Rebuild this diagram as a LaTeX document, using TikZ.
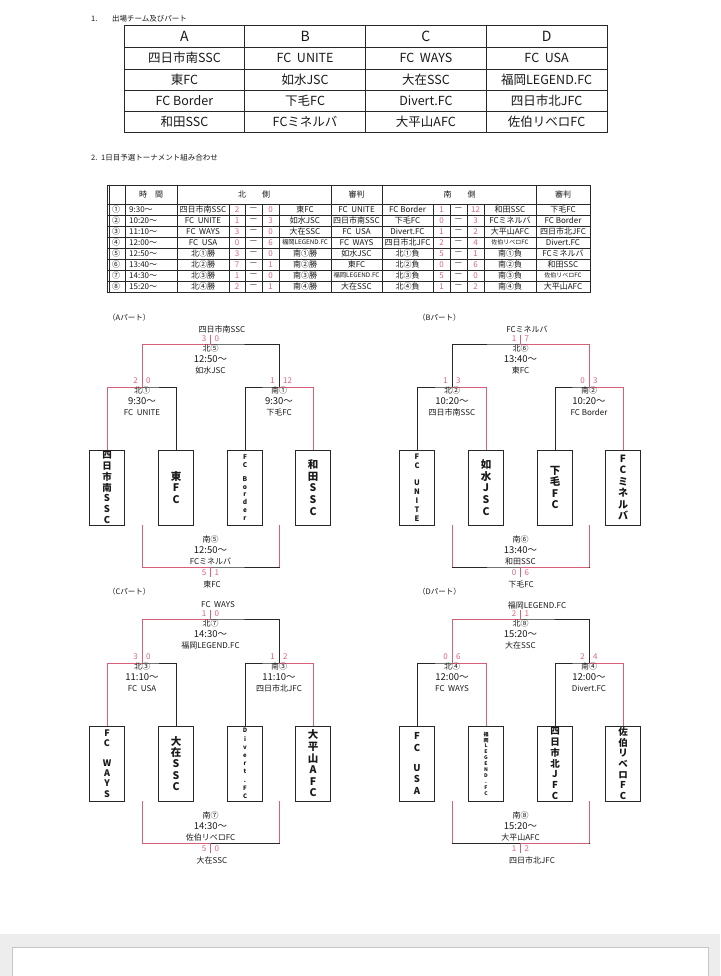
\documentclass[tikz,border=0pt]{standalone}
\usepackage{fontspec}
\setmainfont{Noto Sans CJK JP}
\definecolor{redl}{RGB}{214,96,120}
\definecolor{reds}{RGB}{222,100,126}
\definecolor{blk}{RGB}{40,40,40}
\definecolor{txt}{RGB}{25,25,25}
\newcommand\fs[2]{\fontsize{#1}{#2}\selectfont}
\tikzset{
 ln/.style={draw=blk, line width=0.9pt},
 rl/.style={draw=redl, line width=1pt},
 sc/.style={inner sep=0pt, text=reds, font=\fs{8}{9}},
 mt/.style={inner sep=0pt, text=txt, align=center, font=\fs{8}{11}},
 lab/.style={inner sep=0pt, text=txt, font=\fs{8}{9}},
 team/.style={draw=blk, line width=1pt, minimum width=35pt, minimum height=75pt, inner sep=0pt, align=center, text=txt},
 grid/.style={draw=blk, line width=0.7pt},
 cell/.style={inner sep=0pt, text=txt, font=\fs{12.5}{14}},
 tc/.style={inner sep=0pt, text=txt, font=\fs{8}{8.5}},
 tsc/.style={inner sep=0pt, text=reds, font=\fs{8}{8.5}},
}
% sub bracket: #1 name, #2 left box, #3 right box, #4 winner box, #5 x, #6 y, #7 sL, #8 sR, #9 text
\newcommand\subbr[9]{%
 \coordinate (#1) at (#5,#6);
 \draw[ln] (#2.north) |- (#1) -| (#3.north);
 \draw[rl] (#4.north) |- (#1);
 \node[sc,anchor=east] (#1sl) at ([xshift=-4pt,yshift=6pt]#1) {#7};
 \node[sc,anchor=west] (#1sr) at ([xshift=4pt,yshift=6pt]#1) {#8};
 \node[mt,anchor=north] (#1t) at (#1) {#9};
}
% top bracket: #1 name, #2 left sub, #3 right sub, #4 winner sub, #5 x, #6 y, #7 sL, #8 sR, #9 text
\newcommand\topbr[9]{%
 \coordinate (#1) at (#5,#6);
 \coordinate (#1k) at (#5,#6-9);
 \draw[ln] (#2) |- (#1) -| (#3);
 \draw[rl] (#4) |- (#1) -- (#1k);
 \node[sc,anchor=east] (#1sl) at ([xshift=-4pt,yshift=5pt]#1) {#7};
 \node[sc,anchor=west] (#1sr) at ([xshift=4pt,yshift=5pt]#1) {#8};
 \node[mt,anchor=north] (#1t) at ([yshift=-1pt]#1) {#9};
}
% bottom bracket: #1 name, #2 left x, #3 right x, #4 winner x, #5 x, #6 y, #7 sL, #8 sR, #9 text
\newcommand\botbr[9]{%
 \coordinate (#1) at (#5,#6);
 \coordinate (#1k) at (#5,#6+10);
 \coordinate (#1a) at (#2,#6-42);
 \coordinate (#1b) at (#3,#6-42);
 \coordinate (#1w) at (#4,#6);
 \draw[ln] (#1a) |- (#1) -| (#1b);
 \draw[rl] (#1a) -- (#1a |- #1);
 \draw[rl] (#1b) -- (#1b |- #1);
 \draw[rl] (#1w) -- (#1) -- (#1k);
 \node[sc,anchor=east] (#1sl) at ([xshift=-4pt,yshift=-6pt]#1) {#7};
 \node[sc,anchor=west] (#1sr) at ([xshift=4pt,yshift=-6pt]#1) {#8};
 \node[mt,anchor=north] (#1t) at (#5,#6-31) {#9};
}
\newcommand\nrow[8]{%
 \pgfmathsetmacro\ry{204+11*(#1-0.5)}
 \node[tc] (r#1n) at (116,\ry) {#2};
 \node[tc,anchor=west] (r#1t) at (129,\ry) {#3};
 \node[tc] (r#1a) at (203,\ry) {#4};
 \node[tsc] (r#1s) at (237,\ry) {#5};
 \node[tc] (r#1d) at (253.5,\ry) {—};
 \node[tsc] (r#1u) at (270.5,\ry) {#6};
 \node[tc] (r#1b) at (305,\ry) {#7};
 \node[tc] (r#1r) at (356.5,\ry) {#8};
}
\newcommand\srow[6]{%
 \pgfmathsetmacro\ry{204+11*(#1-0.5)}
 \node[tc] (q#1a) at (407.5,\ry) {#2};
 \node[tsc] (q#1s) at (441.5,\ry) {#3};
 \node[tc] (q#1d) at (458.5,\ry) {—};
 \node[tsc] (q#1u) at (475.5,\ry) {#4};
 \node[tc] (q#1b) at (510,\ry) {#5};
 \node[tc] (q#1r) at (563,\ry) {#6};
}
\newcommand\tm[1]{{\fs{9.5}{11}#1}}
\begin{document}
\begin{tikzpicture}[x=1pt,y=-1pt]
\useasboundingbox (0,0) rectangle (720,976);
\fill[white] (0,0) rectangle (720,976);
\fill[gray!14] (0,934) rectangle (720,976);
\filldraw[fill=white, draw=gray!45] (12,947) rectangle (708,990);

% ---------- section 1 ----------
\node[lab,anchor=west,font=\fs{7.5}{9}] (s1n) at (91,19) {1.};
\node[lab,anchor=west,font=\fs{7.5}{9}] (s1t) at (112,19) {出場チーム及びパート};
\draw[grid,line width=0.9pt] (124,25) rectangle (607,132);
\foreach \yy in {47,69,90,111} \draw[grid] (124,\yy) -- (607,\yy);
\foreach \xx in {244.75,365.5,486.25} \draw[grid] (\xx,25) -- (\xx,132);
\foreach \c/\x/\h/\a/\b/\d/\e in {1/184.4/A/四日市南SSC/東FC/FC Border/和田SSC,
  2/305.1/B/FC\ \ UNITE/如水JSC/下毛FC/FCミネルバ,
  3/425.9/C/FC\ \ WAYS/大在SSC/Divert.FC/大平山AFC,
  4/546.6/D/FC\ \ USA/福岡LEGEND.FC/四日市北JFC/佐伯リベロFC}{
  \node[cell,font=\fs{14}{16}] (h\c) at (\x,36) {\h};
  \node[cell] (ca\c) at (\x,58) {\a};
  \node[cell] (cb\c) at (\x,79.5) {\b};
  \node[cell] (cd\c) at (\x,100.5) {\d};
  \node[cell] (ce\c) at (\x,121.5) {\e};
}

% ---------- section 2 ----------
\node[lab,anchor=west,font=\fs{7.5}{9}] (s2n) at (91,158) {2.};
\node[lab,anchor=west,font=\fs{7.5}{9}] (s2t) at (101,158) {1日目予選トーナメント組み合わせ};
\draw[grid,line width=0.9pt] (107,185) rectangle (590,292);
\draw[grid,line width=0.5pt] (109.5,185) -- (109.5,292);
\draw[grid] (107,204) -- (590,204);
\foreach \i in {1,...,7} \draw[grid] (107,204+11*\i) -- (590,204+11*\i);
\foreach \xx in {125,177,331,382,536} \draw[grid] (\xx,185) -- (\xx,292);
\foreach \xx in {229,245,262,279,433,450,467,484} \draw[grid] (\xx,204) -- (\xx,292);
\node[tc,font=\fs{8}{9}] (hd1) at (151,194.5) {時　間};
\node[tc,font=\fs{8}{9}] (hd2) at (254,194.5) {北　　側};
\node[tc,font=\fs{8}{9}] (hd3) at (356.5,194.5) {審判};
\node[tc,font=\fs{8}{9}] (hd4) at (459.5,194.5) {南　　側};
\node[tc,font=\fs{8}{9}] (hd5) at (563,194.5) {審判};
\nrow{1}{①}{9:30〜}{四日市南SSC}{2}{0}{東FC}{FC\ \ UNITE}
\nrow{2}{②}{10:20〜}{FC\ \ UNITE}{1}{3}{如水JSC}{四日市南SSC}
\nrow{3}{③}{11:10〜}{FC\ \ WAYS}{3}{0}{大在SSC}{FC\ \ USA}
\nrow{4}{④}{12:00〜}{FC\ \ USA}{0}{6}{{\fs{6.3}{7}福岡LEGEND.FC}}{FC\ \ WAYS}
\nrow{5}{⑤}{12:50〜}{北①勝}{3}{0}{南①勝}{如水JSC}
\nrow{6}{⑥}{13:40〜}{北②勝}{7}{1}{南②勝}{東FC}
\nrow{7}{⑦}{14:30〜}{北③勝}{1}{0}{南③勝}{{\fs{6.3}{7}福岡LEGEND.FC}}
\nrow{8}{⑧}{15:20〜}{北④勝}{2}{1}{南④勝}{大在SSC}
\srow{1}{FC Border}{1}{12}{和田SSC}{下毛FC}
\srow{2}{下毛FC}{0}{3}{FCミネルバ}{FC Border}
\srow{3}{Divert.FC}{1}{2}{大平山AFC}{四日市北JFC}
\srow{4}{四日市北JFC}{2}{4}{{\fs{6}{7}佐伯リベロFC}}{Divert.FC}
\srow{5}{北①負}{5}{1}{南①負}{FCミネルバ}
\srow{6}{北②負}{0}{6}{南②負}{和田SSC}
\srow{7}{北③負}{5}{0}{南③負}{{\fs{6}{7}佐伯リベロFC}}
\srow{8}{北④負}{1}{2}{南④負}{大平山AFC}

% ---------- Part A ----------
\begin{scope}
\node[lab,anchor=west,font=\fs{7.5}{9}] (Alab) at (108,318) {（Aパート）};
\node[team,font=\bfseries\fs{9.5}{10.7}] (A1) at (107,487.5) {四\\日\\市\\南\\S\\S\\C};
\node[team,font=\bfseries\fs{10.5}{11.5}] (A2) at (176,487.5) {東\\F\\C};
\node[team,font=\bfseries\fs{6.5}{7.8}] (A3) at (245,487.5) {F\\C\\[6pt]B\\o\\r\\d\\e\\r};
\node[team,font=\bfseries\fs{10.5}{11.7}] (A4) at (313,487.5) {和\\田\\S\\S\\C};
\subbr{A1c}{A1}{A2}{A1}{142}{387}{2}{0}{北①\\\tm{9:30〜}\\FC\ \ UNITE}
\subbr{A2c}{A3}{A4}{A4}{279}{387}{1}{12}{南①\\\tm{9:30〜}\\下毛FC}
\topbr{At}{A1c}{A2c}{A1c}{210.5}{344}{3}{0}{北⑤\\\tm{12:50〜}\\如水JSC}
\node[lab] (Atitle) at (222,329) {四日市南SSC};
\botbr{Ab}{142}{279}{142}{210.5}{567}{5}{1}{南⑤\\\tm{12:50〜}\\FCミネルバ}
\node[lab] (Awin) at (212,584) {東FC};
\end{scope}

% ---------- Part B ----------
\begin{scope}[shift={(310,0)}]
\node[lab,anchor=west,font=\fs{7.5}{9}] (Blab) at (108,318) {（Bパート）};
\node[team,font=\bfseries\fs{7.5}{9}] (B1) at (107,487.5) {F\\C\\[8pt]U\\N\\I\\T\\E};
\node[team,font=\bfseries\fs{10.5}{11.7}] (B2) at (176,487.5) {如\\水\\J\\S\\C};
\node[team,font=\bfseries\fs{10.5}{11.5}] (B3) at (245,487.5) {下\\毛\\F\\C};
\node[team,font=\bfseries\fs{10}{11.5}] (B4) at (313,487.5) {F\\C\\ミ\\ネ\\ル\\バ};
\subbr{B1c}{B1}{B2}{B2}{142}{387}{1}{3}{北②\\\tm{10:20〜}\\四日市南SSC}
\subbr{B2c}{B3}{B4}{B4}{279}{387}{0}{3}{南②\\\tm{10:20〜}\\FC Border}
\topbr{Bt}{B1c}{B2c}{B2c}{210.5}{344}{1}{7}{北⑥\\\tm{13:40〜}\\東FC}
\node[lab] (Btitle) at (217,329) {FCミネルバ};
\botbr{Bb}{142}{279}{279}{210.5}{567}{0}{6}{南⑥\\\tm{13:40〜}\\和田SSC}
\node[lab] (Bwin) at (211,584) {下毛FC};
\end{scope}

% ---------- Part C ----------
\begin{scope}[shift={(0,276)}]
\node[lab,anchor=west,font=\fs{7.5}{9}] (Clab) at (108,316) {（Cパート）};
\node[team,font=\bfseries\fs{9}{10.3}] (C1) at (107,487.5) {F\\C\\[9pt]W\\A\\Y\\S};
\node[team,font=\bfseries\fs{10.5}{11.3}] (C2) at (176,487.5) {大\\在\\S\\S\\C};
\node[team,font=\bfseries\fs{6}{8.2}] (C3) at (245,487.5) {D\\i\\v\\e\\r\\t\\.\\F\\C};
\node[team,font=\bfseries\fs{10.5}{11.6}] (C4) at (313,487.5) {大\\平\\山\\A\\F\\C};
\subbr{C1c}{C1}{C2}{C1}{142}{387}{3}{0}{北③\\\tm{11:10〜}\\FC\ \ USA}
\subbr{C2c}{C3}{C4}{C4}{279}{387}{1}{2}{南③\\\tm{11:10〜}\\四日市北JFC}
\topbr{Ct}{C1c}{C2c}{C1c}{210.5}{343}{1}{0}{北⑦\\\tm{14:30〜}\\福岡LEGEND.FC}
\node[lab] (Ctitle) at (218,329) {FC\ \ WAYS};
\botbr{Cb}{142}{279}{142}{210.5}{567}{5}{0}{南⑦\\\tm{14:30〜}\\佐伯リベロFC}
\node[lab] (Cwin) at (212,584) {大在SSC};
\end{scope}

% ---------- Part D ----------
\begin{scope}[shift={(310,276)}]
\node[lab,anchor=west,font=\fs{7.5}{9}] (Dlab) at (108,316) {（Dパート）};
\node[team,font=\bfseries\fs{9.5}{11.4}] (D1) at (107,487.5) {F\\C\\[9pt]U\\S\\A};
\node[team,font=\bfseries\fs{5}{5.9}] (D2) at (176,487.5) {福\\岡\\L\\E\\G\\E\\N\\D\\.\\F\\C};
\node[team,font=\bfseries\fs{9.5}{10.7}] (D3) at (245,487.5) {四\\日\\市\\北\\J\\F\\C};
\node[team,font=\bfseries\fs{9.5}{10.7}] (D4) at (313,487.5) {佐\\伯\\リ\\ベ\\ロ\\F\\C};
\subbr{D1c}{D1}{D2}{D2}{142}{387}{0}{6}{北④\\\tm{12:00〜}\\FC\ \ WAYS}
\subbr{D2c}{D3}{D4}{D4}{279}{387}{2}{4}{南④\\\tm{12:00〜}\\Divert.FC}
\topbr{Dt}{D1c}{D2c}{D1c}{210.5}{343}{2}{1}{北⑧\\\tm{15:20〜}\\大在SSC}
\node[lab] (Dtitle) at (227,329) {福岡LEGEND.FC};
\botbr{Db}{142}{279}{279}{210.5}{567}{1}{2}{南⑧\\\tm{15:20〜}\\大平山AFC}
\node[lab] (Dwin) at (222,584) {四日市北JFC};
\end{scope}
\end{tikzpicture}
\end{document}
